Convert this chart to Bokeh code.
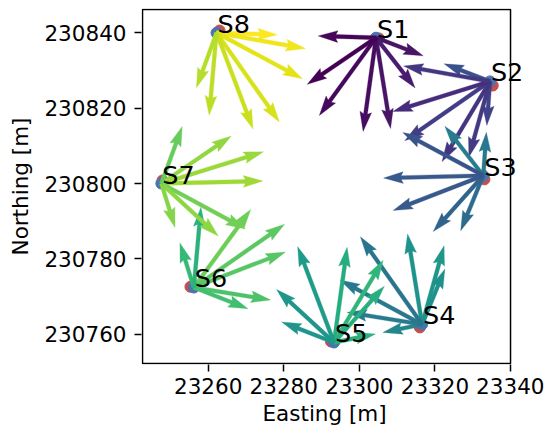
import numpy as np
from bokeh.plotting import figure
from bokeh.models import (ColumnDataSource, FixedTicker, Range1d, BasicTickFormatter,
                          LabelSet, Title)
from bokeh.core.properties import value
from bokeh.palettes import Viridis256
from bokeh.embed import file_html
from bokeh.resources import INLINE

stations = ["S1", "S2", "S3", "S4", "S5", "S6", "S7", "S8"]
# station positions (blue = plotted/estimated, red = reference)
blue_e = [23304.4, 23334.55, 23332.8, 23316.6, 23293.3, 23256.2, 23247.6, 23262.2]
blue_n = [230838.7, 230827.1, 230802.1, 230762.6, 230757.8, 230772.4, 230800.0, 230840.0]
red_e = [23305.2, 23335.3, 23333.1, 23316.0, 23292.5, 23255.3, 23247.9, 23263.0]
red_n = [230838.5, 230826.0, 230801.1, 230761.8, 230758.05, 230772.6, 230800.8, 230840.6]

# arrow lengths [m] from each station toward every other station (targets in station order, self skipped)
len_S1 = [13.4, 16.9, 24.4, 25.1, 25.5, 22.0, 15.3]
len_S2 = [13.0, 11.7, 20.8, 24.8, 27.5, 26.9, 23.2]
len_S3 = [16.6, 11.5, 15.8, 19.9, 25.6, 26.4, 24.2]
len_S4 = [24.3, 21.7, 15.9, 10.6, 20.1, 24.7, 28.4]
len_S5 = [25.5, 25.4, 20.0, 11.2, 14.9, 20.7, 27.2]
len_S6 = [25.6, 29.3, 26.0, 20.6, 15.4, 12.4, 21.4]
len_S7 = [22.4, 28.3, 26.9, 25.3, 20.5, 12.2, 16.1]
len_S8 = [16.1, 23.9, 25.8, 28.9, 27.3, 22.0, 15.5]

# colour value (0..1 on viridis) of each arrow, same order
col_S1 = [0.05, 0.08, 0.05, 0.03, 0.02, 0.00, 0.01]
col_S2 = [0.25, 0.20, 0.17, 0.15, 0.18, 0.13, 0.16]
col_S3 = [0.42, 0.40, 0.35, 0.32, 0.28, 0.28, 0.26]
col_S4 = [0.51, 0.53, 0.50, 0.46, 0.41, 0.40, 0.39]
col_S5 = [0.62, 0.66, 0.63, 0.64, 0.52, 0.53, 0.55]
col_S6 = [0.78, 0.75, 0.74, 0.72, 0.70, 0.67, 0.64]
col_S7 = [0.84, 0.85, 0.86, 0.79, 0.83, 0.82, 0.77]
col_S8 = [1.00, 0.98, 0.96, 0.94, 0.92, 0.90, 0.89]

x_ticks = [23260, 23280, 23300, 23320, 23340]
y_ticks = [230760, 230780, 230800, 230820, 230840]

# axes box limits (easting, northing)
box_e = [23242.62, 23340.0]
box_n = [230752.22, 230846.19]

lengths = [len_S1, len_S2, len_S3, len_S4, len_S5, len_S6, len_S7, len_S8]
colvals = [col_S1, col_S2, col_S3, col_S4, col_S5, col_S6, col_S7, col_S8]

FONT = "DejaVu Sans"

# the frame extends to the right edge so the station labels are not clipped;
# the visible axes box is drawn as a quad
p = figure(width=544, height=431, output_backend="svg", toolbar_location=None,
           x_range=Range1d(23242.35, 23348.99), y_range=Range1d(230751.96, 230846.45),
           min_border_left=141, min_border_right=0, min_border_top=8, min_border_bottom=67)
p.background_fill_color = "white"
p.border_fill_color = "white"
p.grid.visible = False
p.outline_line_color = None

# arrows (quiver-like polygons)
W = 1.04
xs, ys, cols = [], [], []
for i in range(8):
    targets = [j for j in range(8) if j != i]
    for k, j in enumerate(targets):
        L = lengths[i][k]
        dx = blue_e[j] - blue_e[i]
        dy = blue_n[j] - blue_n[i]
        d = np.hypot(dx, dy)
        ux, uy = dx / d, dy / d
        along = np.array([0, L - 4.5 * W, L - 5 * W, L, L - 5 * W, L - 4.5 * W, 0])
        across = np.array([-W / 2, -W / 2, -1.5 * W, 0, 1.5 * W, W / 2, W / 2])
        xs.append(list(blue_e[i] + along * ux - across * uy))
        ys.append(list(blue_n[i] + along * uy + across * ux))
        cols.append(Viridis256[int(round(colvals[i][k] * 255))])

p.scatter(red_e, red_n, size=11, color="#c44e52")
p.scatter(blue_e, blue_n, size=11, color="#4c72b0")

src = ColumnDataSource(dict(xs=xs, ys=ys, c=cols))
p.patches("xs", "ys", source=src, fill_color="c", line_color="c", line_width=0.3)

p.quad(left=[box_e[0]], right=[box_e[1]], bottom=[box_n[0]], top=[box_n[1]],
       fill_color=None, line_color="black", line_width=1.5)

lab_src = ColumnDataSource(dict(x=blue_e, y=blue_n, t=stations))
labels = LabelSet(x="x", y="y", text="t", source=lab_src, level="overlay",
                  text_font=value(FONT), text_font_size="25.5px",
                  text_baseline="alphabetic", text_align="left", x_offset=1,
                  text_color="black")
p.add_layout(labels)

for ax in (p.xaxis[0], p.yaxis[0]):
    ax.formatter = BasicTickFormatter(use_scientific=False)
    ax.major_label_text_font = FONT
    ax.major_label_text_font_size = "21.5px"
    ax.major_label_text_color = "black"
    ax.axis_label_text_font = FONT
    ax.axis_label_text_font_size = "21.5px"
    ax.axis_label_text_font_style = "normal"
    ax.axis_label_text_color = "black"
    ax.major_tick_out = 7
    ax.major_tick_in = 0
    ax.major_tick_line_width = 1.5
    ax.major_tick_line_color = "black"
    ax.minor_tick_line_color = None
    ax.axis_line_color = None

p.xaxis.ticker = FixedTicker(ticks=x_ticks)
p.yaxis.ticker = FixedTicker(ticks=y_ticks)
p.yaxis.axis_label = "Northing [m]"
p.xaxis.major_label_standoff = 6
p.yaxis.major_label_standoff = 8
p.yaxis.axis_label_standoff = 8

xlabel = Title(text="Easting [m]", align="left", offset=121, standoff=5,
               text_font=FONT, text_font_size="21.5px", text_font_style="normal",
               text_color="black")
p.add_layout(xlabel, "below")

open("out.html", "w").write(file_html(p, INLINE))
